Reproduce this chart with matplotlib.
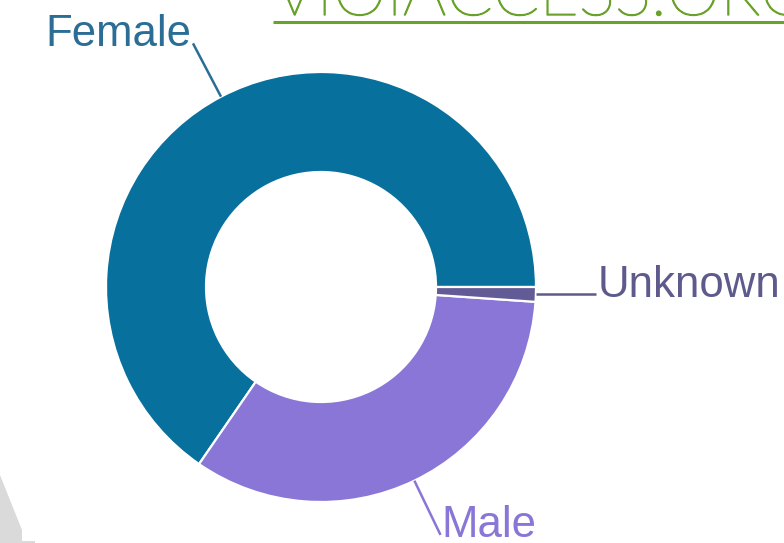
import numpy as np
import matplotlib
matplotlib.use("Agg")
import matplotlib.pyplot as plt
import matplotlib.patheffects as pe
from matplotlib.patches import Polygon

# --- data ---
LABELS = ["Female", "Male", "Unknown"]
SHARES = [65.4, 33.5, 1.1]
COLORS = ["#07709c", "#8a76d6", "#635b96"]
TEXT_COLORS = ["#2a6e96", "#8a76d6", "#5e5a8c"]
SITE_TEXT = "VIOIACCESS.ORG"

W, H = 784, 543
CX, CY = 321, 543 - 287
R = 215
RING = 100

fig = plt.figure(figsize=(W / 100, H / 100), dpi=100, facecolor="white")
ax = fig.add_axes([0, 0, 1, 1])

wedges, _ = ax.pie(
    SHARES, colors=COLORS, startangle=0, counterclock=True,
    radius=R, center=(CX, CY),
    wedgeprops=dict(width=RING, edgecolor="white", linewidth=1.6),
)
ax.set_xlim(0, W)
ax.set_ylim(0, H)
ax.set_aspect("equal")
ax.axis("off")

# leader lines + labels
label_dx = {"Female": -2, "Male": 1, "Unknown": 2}
for w, lab, tc in zip(wedges, LABELS, TEXT_COLORS):
    mid = np.deg2rad((w.theta1 + w.theta2) / 2)
    x0, y0 = CX + R * np.cos(mid), CY + R * np.sin(mid)
    x1, y1 = CX + 1.28 * R * np.cos(mid), CY + 1.28 * R * np.sin(mid)
    if abs(np.sin(mid)) < 0.1:
        # nearly horizontal: keep the leader flat
        y1 = y0
    ax.plot([x0, x1], [y0, y1], color=tc, lw=1.8, solid_capstyle="butt")
    ha = "right" if np.cos(mid) < 0 else "left"
    ax.text(x1 + label_dx[lab], y1 - 2.5, lab, ha=ha, va="baseline",
            fontsize=31.5, color=tc, family="Liberation Sans")

# site watermark text at top
ax.text(273, H - 15, SITE_TEXT, ha="left", va="baseline", fontsize=49,
        color="#6aa12a", family="Lato", fontweight="light",
        path_effects=[pe.withStroke(linewidth=1.0, foreground="#6aa12a")])
ax.plot([273, W], [H - 22, H - 22], color="#6aa12a", lw=2.2, solid_capstyle="butt")

# grey corner artefact
ax.add_patch(Polygon([(0, H - 475), (22, H - 530), (22, H - 541), (35, H - 541),
                      (35, 0), (0, 0)], closed=True, facecolor="#dadada",
                     edgecolor="none"))

fig.savefig("out.png", dpi=100, facecolor="white")
